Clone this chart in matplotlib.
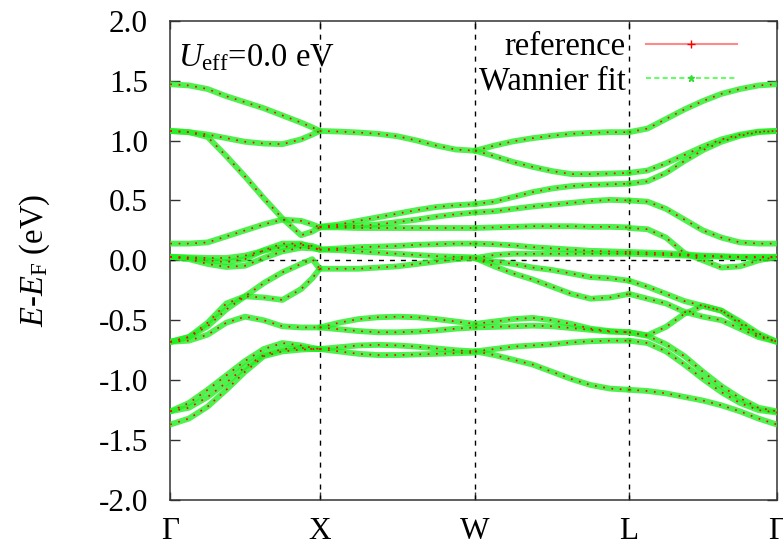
# band_plot.py
# Wannier-interpolated bands vs reference, Ueff = 0
import numpy as np
import matplotlib.pyplot as plt
from matplotlib.lines import Line2D

plt.rcParams['font.family'] = ['Liberation Serif', 'DejaVu Serif']
plt.rcParams['mathtext.fontset'] = 'custom'
plt.rcParams['mathtext.rm'] = 'Liberation Serif'
plt.rcParams['mathtext.it'] = 'Liberation Serif:italic'
plt.rcParams['axes.unicode_minus'] = False

# ==== data ====
knodes = [0.0, 1.0, 2.04, 3.07, 4.06]
klabels = ['Γ', 'X', 'W', 'L', 'Γ']

frac_gx = [0, 0.125, 0.25, 0.375, 0.5, 0.625, 0.75, 0.875, 0.95, 1.0]
frac_8 = [0, 0.125, 0.25, 0.375, 0.5, 0.625, 0.75, 0.875, 1.0]

# Gamma -> X
bands_gx = [
    [1.47, 1.46, 1.43, 1.37, 1.32, 1.27, 1.21, 1.15, 1.11, 1.08],
    [1.08, 1.07, 1.05, 1.02, 0.99, 0.975, 0.97, 1.01, 1.05, 1.08],
    [1.08, 1.07, 1.03, 0.87, 0.70, 0.52, 0.35, 0.21, 0.24, 0.275],
    [0.14, 0.14, 0.15, 0.20, 0.25, 0.30, 0.34, 0.33, 0.30, 0.275],
    [0.03, 0.01, -0.03, -0.055, -0.045, 0.02, 0.075, 0.105, 0.10, 0.09],
    [0.03, 0.02, 0.0, -0.015, 0.01, 0.085, 0.14, 0.14, 0.11, 0.09],
    [0.03, 0.025, 0.02, 0.02, 0.04, 0.08, 0.11, 0.13, 0.12, 0.10],
    [-0.68, -0.64, -0.55, -0.41, -0.30, -0.19, -0.10, -0.03, 0.01, -0.07],
    [-0.68, -0.64, -0.52, -0.36, -0.30, -0.31, -0.33, -0.24, -0.15, -0.07],
    [-0.68, -0.67, -0.62, -0.52, -0.47, -0.50, -0.55, -0.56, -0.56, -0.56],
    [-1.26, -1.19, -1.08, -0.96, -0.84, -0.74, -0.69, -0.71, -0.73, -0.74],
    [-1.26, -1.23, -1.14, -1.02, -0.89, -0.79, -0.74, -0.73, -0.74, -0.74],
    [-1.37, -1.32, -1.22, -1.08, -0.93, -0.80, -0.76, -0.745, -0.74, -0.74],
]

# X -> W
bands_xw = [
    [1.08, 1.075, 1.067, 1.056, 1.036, 1.0, 0.958, 0.925, 0.915],
    [0.28, 0.30, 0.33, 0.36, 0.39, 0.42, 0.445, 0.46, 0.47],
    [0.28, 0.285, 0.29, 0.30, 0.32, 0.34, 0.365, 0.385, 0.40],
    [0.275, 0.275, 0.27, 0.27, 0.27, 0.27, 0.27, 0.27, 0.27],
    [0.09, 0.10, 0.11, 0.115, 0.12, 0.13, 0.135, 0.14, 0.14],
    [0.09, 0.085, 0.075, 0.065, 0.055, 0.045, 0.035, 0.03, 0.025],
    [-0.07, -0.07, -0.07, -0.06, -0.05, -0.03, -0.01, 0.01, 0.02],
    [-0.56, -0.52, -0.49, -0.475, -0.47, -0.475, -0.49, -0.51, -0.53],
    [-0.56, -0.575, -0.59, -0.60, -0.60, -0.595, -0.585, -0.57, -0.56],
    [-0.74, -0.725, -0.71, -0.705, -0.71, -0.72, -0.735, -0.75, -0.76],
    [-0.74, -0.76, -0.78, -0.79, -0.79, -0.785, -0.78, -0.775, -0.77],
]

# W -> L
bands_wl = [
    [0.915, 0.958, 0.994, 1.02, 1.04, 1.056, 1.064, 1.07, 1.07],
    [0.915, 0.87, 0.82, 0.78, 0.745, 0.72, 0.72, 0.725, 0.73],
    [0.47, 0.49, 0.53, 0.57, 0.60, 0.62, 0.63, 0.635, 0.64],
    [0.40, 0.41, 0.43, 0.45, 0.465, 0.48, 0.495, 0.505, 0.50],
    [0.27, 0.275, 0.28, 0.285, 0.285, 0.285, 0.28, 0.28, 0.275],
    [0.14, 0.135, 0.125, 0.11, 0.10, 0.09, 0.08, 0.075, 0.07],
    [0.02, 0.045, 0.055, 0.055, 0.055, 0.055, 0.055, 0.055, 0.055],
    [0.015, -0.01, -0.03, -0.06, -0.08, -0.11, -0.14, -0.15, -0.17],
    [0.02, -0.05, -0.11, -0.16, -0.22, -0.28, -0.32, -0.31, -0.28],
    [-0.53, -0.51, -0.49, -0.48, -0.50, -0.53, -0.57, -0.59, -0.60],
    [-0.56, -0.555, -0.55, -0.545, -0.55, -0.565, -0.58, -0.595, -0.60],
    [-0.76, -0.74, -0.72, -0.71, -0.70, -0.685, -0.675, -0.67, -0.67],
    [-0.76, -0.79, -0.83, -0.87, -0.93, -0.99, -1.04, -1.07, -1.08],
]

# L -> Gamma
bands_lg = [
    [1.07, 1.10, 1.18, 1.26, 1.33, 1.39, 1.43, 1.46, 1.47],
    [0.73, 0.75, 0.81, 0.88, 0.95, 1.01, 1.05, 1.075, 1.08],
    [0.64, 0.66, 0.73, 0.83, 0.92, 0.99, 1.04, 1.07, 1.08],
    [0.50, 0.49, 0.43, 0.34, 0.25, 0.19, 0.15, 0.14, 0.14],
    [0.27, 0.26, 0.19, 0.06, 0.0, -0.06, -0.05, 0.0, 0.03],
    [0.07, 0.065, 0.06, 0.05, 0.04, 0.035, 0.03, 0.03, 0.03],
    [0.055, 0.05, 0.045, 0.04, 0.035, 0.03, 0.025, 0.025, 0.025],
    [-0.17, -0.22, -0.28, -0.34, -0.38, -0.42, -0.51, -0.61, -0.68],
    [-0.28, -0.32, -0.36, -0.43, -0.47, -0.50, -0.57, -0.64, -0.68],
    [-0.60, -0.625, -0.555, -0.445, -0.38, -0.42, -0.53, -0.625, -0.68],
    [-0.60, -0.63, -0.70, -0.80, -0.93, -1.05, -1.15, -1.23, -1.26],
    [-0.67, -0.69, -0.76, -0.87, -0.99, -1.10, -1.19, -1.25, -1.27],
    [-1.08, -1.09, -1.11, -1.14, -1.17, -1.21, -1.26, -1.32, -1.37],
]

segs = [(frac_gx, bands_gx), (frac_8, bands_xw), (frac_8, bands_wl), (frac_8, bands_lg)]

yticks = [-2.0, -1.5, -1.0, -0.5, 0.0, 0.5, 1.0, 1.5, 2.0]

# ==== plotting ====
fig = plt.figure(figsize=(7.83, 5.47), dpi=100)
ax = fig.add_axes([0.2175, 0.0859, 0.7748, 0.8762])

for iseg, (fr, bands) in enumerate(segs):
    k = knodes[iseg] + np.array(fr) * (knodes[iseg+1] - knodes[iseg])
    for e in bands:
        ax.plot(k, e, color='#22ee22', lw=4.2, alpha=0.8, solid_capstyle='round',
            solid_joinstyle='round', zorder=3)
        ax.plot(k, e, color='red', lw=1.2, ls=(0, (1, 4)), zorder=4)

# high-symmetry lines and Fermi level
for kk in knodes[1:-1]:
    ax.axvline(kk, color='black', lw=1, ls=(0, (3.6, 4.3)), zorder=2)
ax.axhline(0.0, color='black', lw=1, ls=(0, (3.6, 4.3)), zorder=2)

ax.set_xlim(knodes[0], knodes[-1])
ax.set_ylim(-2.0, 2.0)
ax.set_xticks(knodes)
ax.set_xticklabels(klabels)
ax.set_yticks(yticks)
ax.set_yticklabels(['%.1f' % y for y in yticks])
ax.tick_params(axis='both', direction='in', top=True, right=True, labelsize=22.5,
    color='#333333', width=1)
ax.tick_params(axis='y', length=7, pad=16)
ax.tick_params(axis='x', length=6, pad=12)
for sp in ax.spines.values():
    sp.set_color('#333333')
    sp.set_linewidth(1.1)

ax.set_ylabel(r'$E$-$E_{\rm F}$ (eV)', fontsize=23.5)
ax.yaxis.set_label_coords(-0.195, 0.5)

ax.text(0.013, 0.9055, r'$U_{\rm eff}$=0.0 eV', transform=ax.transAxes,
    fontsize=23.5, va='baseline', ha='left')

h1 = Line2D([], [], color='#ff8888', lw=1.5, marker='+', mec='red', ms=6)
h2 = Line2D([], [], color='#44ff44', lw=1.2, ls=(0, (3, 2)), marker='*',
    mec='#33dd33', mfc='#33dd33', ms=5)
ax.legend([h1, h2], ['reference', 'Wannier fit'], loc='upper right',
    bbox_to_anchor=(0.934, 0.977), frameon=False, markerfirst=False,
    handlelength=2.8, handletextpad=0.6, labelspacing=0.12, borderpad=0,
    borderaxespad=0, numpoints=1, fontsize=23.5)

fig.savefig('out.png', dpi=100)
